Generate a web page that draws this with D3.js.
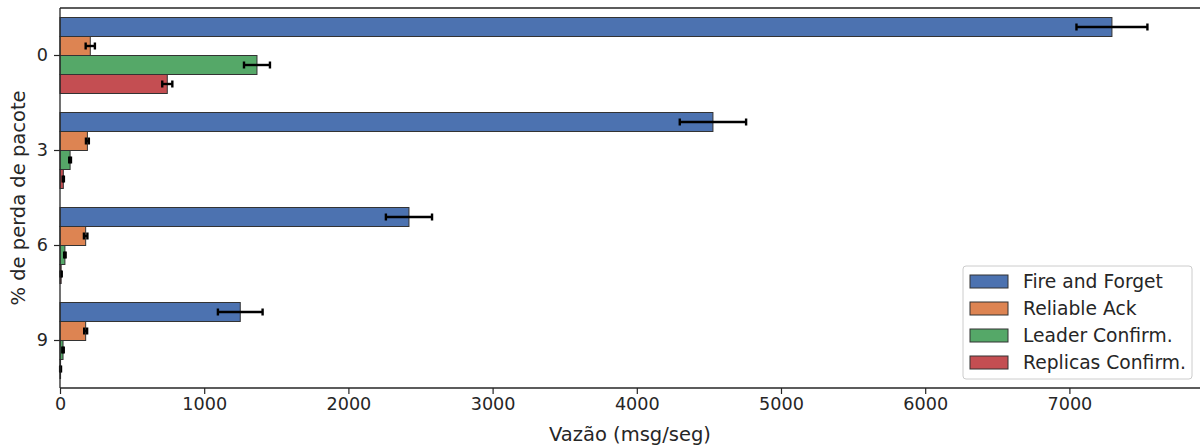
<!DOCTYPE html>
<html><head><meta charset="utf-8">
<script src="https://cdn.jsdelivr.net/npm/d3@7"></script>
<style>body{margin:0;background:#fff;}svg{display:block;font-family:"DejaVu Sans",sans-serif;}</style>
</head><body><svg id="c" width="1200" height="445"></svg>
<script>
const categories = ["0", "3", "6", "9"];
const seriesNames = ["Fire and Forget", "Reliable Ack", "Leader Confirm.", "Replicas Confirm."];
const fireForget = [7295, 4528, 2420, 1250];
const fireForgetErr = [246, 230, 160, 155];
const reliableAck = [210, 190, 178, 178];
const reliableAckErr = [32, 10, 12, 10];
const leaderConfirm = [1366, 70, 34, 21];
const leaderConfirmErr = [90, 6, 5, 5];
const replicasConfirm = [744, 23, 8, 4];
const replicasConfirmErr = [35, 4, 4, 3];
const xTicks = [0, 1000, 2000, 3000, 4000, 5000, 6000, 7000];
const colors = ["#4c72b0", "#dd8452", "#55a868", "#c44e52"];

const values = [fireForget, reliableAck, leaderConfirm, replicasConfirm];
const errs = [fireForgetErr, reliableAckErr, leaderConfirmErr, replicasConfirmErr];

const svg = d3.select("#c");
const L = 60, T = 8, B = 388, R = 1200;
const x = d3.scaleLinear().domain([0, 7885]).range([L, L + 7885 * 0.1442]);
const y = d3.scaleBand().domain(categories).range([T, B]).paddingInner(0.2).paddingOuter(0.1);
const inner = d3.scaleBand().domain(d3.range(4)).range([0, y.bandwidth()]);

const txt = "#262626";
const data = [];
categories.forEach((c, ci) => values.forEach((s, si) => data.push({c, si, v: s[ci], e: errs[si][ci]})));
svg.append("g").selectAll("rect").data(data).join("rect")
  .attr("x", x(0)).attr("y", d => y(d.c) + inner(d.si))
  .attr("width", d => x(d.v) - x(0)).attr("height", inner.bandwidth())
  .attr("fill", d => colors[d.si]).attr("stroke", "#333").attr("stroke-width", 1);

const eg = svg.append("g").attr("stroke", "#000").attr("stroke-width", 2.4);
data.forEach(d => {
  const cy = y(d.c) + inner(d.si) + inner.bandwidth() / 2;
  const x1 = x(Math.max(0, d.v - d.e)), x2 = x(d.v + d.e);
  eg.append("line").attr("x1", x1).attr("x2", x2).attr("y1", cy).attr("y2", cy);
  eg.append("line").attr("x1", x1).attr("x2", x1).attr("y1", cy - 3.5).attr("y2", cy + 3.5);
  eg.append("line").attr("x1", x2).attr("x2", x2).attr("y1", cy - 3.5).attr("y2", cy + 3.5);
});

const xa = svg.append("g").attr("transform", `translate(0,${B})`)
  .call(d3.axisBottom(x).tickValues(xTicks).tickFormat(d3.format("d")).tickSize(6).tickPadding(4));
xa.select(".domain").remove();
xa.selectAll("line").attr("stroke", txt).attr("stroke-width", 1.2);
xa.selectAll("text").attr("fill", txt).attr("font-size", 17.6).attr("font-family", "DejaVu Sans");

const ya = svg.append("g").attr("transform", `translate(${L},0)`)
  .call(d3.axisLeft(y).tickSize(6).tickPadding(6));
ya.select(".domain").remove();
ya.selectAll("line").attr("stroke", txt).attr("stroke-width", 1.2);
ya.selectAll("text").attr("fill", txt).attr("font-size", 17.6).attr("font-family", "DejaVu Sans");

svg.append("line").attr("x1", L).attr("x2", R).attr("y1", T).attr("y2", T).attr("stroke", txt).attr("stroke-width", 1.3);
svg.append("line").attr("x1", L).attr("x2", R).attr("y1", B).attr("y2", B).attr("stroke", txt).attr("stroke-width", 1.3);
svg.append("line").attr("x1", L).attr("x2", L).attr("y1", T).attr("y2", B).attr("stroke", txt).attr("stroke-width", 1.3);

svg.append("text").attr("x", 630).attr("y", 441).attr("text-anchor", "middle")
  .attr("font-size", 19.5).attr("fill", txt).text("Vazão (msg/seg)");
svg.append("text").attr("transform", `translate(25,${(T + B) / 2}) rotate(-90)`).attr("text-anchor", "middle")
  .attr("font-size", 19.5).attr("fill", txt).text("% de perda de pacote");

const lg = svg.append("g");
lg.append("rect").attr("x", 963).attr("y", 266).attr("width", 229).attr("height", 113).attr("rx", 3)
  .attr("fill", "#fff").attr("fill-opacity", 0.8).attr("stroke", "#ccc").attr("stroke-width", 1);
seriesNames.forEach((n, i) => {
  const cy = 281 + i * 27;
  lg.append("rect").attr("x", 970).attr("y", cy - 6).attr("width", 38).attr("height", 13)
    .attr("fill", colors[i]).attr("stroke", "#333").attr("stroke-width", 1);
  lg.append("text").attr("x", 1023).attr("y", cy + 6.5).attr("font-size", 18.7).attr("fill", txt).text(n);
});
</script></body></html>
